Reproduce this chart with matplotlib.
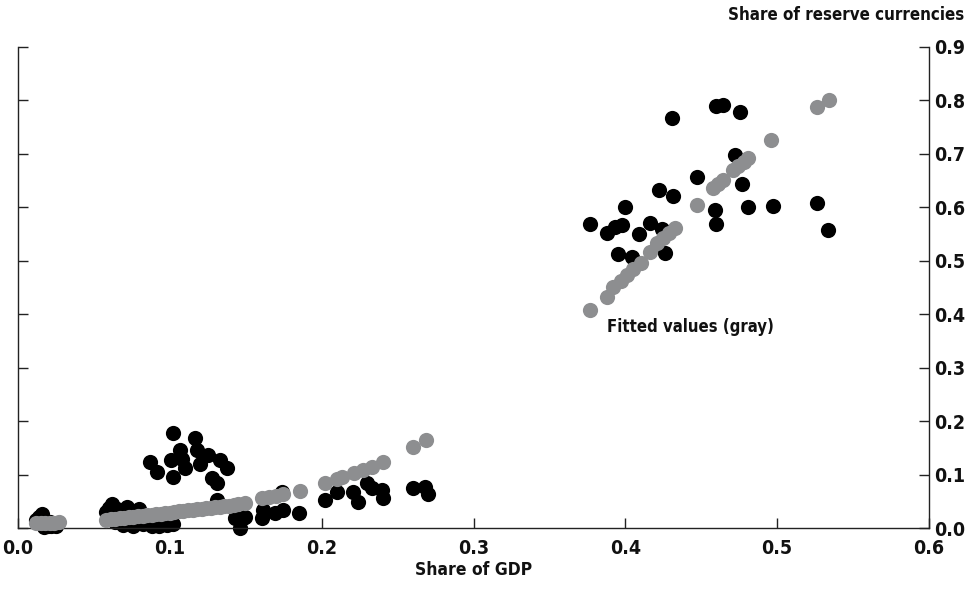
import os
import matplotlib
matplotlib.use("Agg")
import matplotlib.pyplot as plt
from matplotlib import font_manager

# ---------------- data ----------------
# actual observations (black)
actual_x_low = [0.012, 0.014, 0.0156, 0.016, 0.018, 0.020, 0.022, 0.024, 0.026, 0.017, 0.021, 0.025]
actual_y_low = [0.015, 0.020, 0.027, 0.008, 0.005, 0.003, 0.004, 0.006, 0.010, 0.002, 0.012, 0.003]

actual_x_mid = [0.058, 0.060, 0.062, 0.063, 0.065, 0.067, 0.069, 0.071, 0.072, 0.074, 0.076,
                0.078, 0.080, 0.082, 0.085, 0.088, 0.090, 0.093, 0.095, 0.098, 0.100, 0.102,
                0.060, 0.064, 0.068, 0.073, 0.077, 0.083, 0.087, 0.091, 0.096,
                0.087, 0.0913, 0.1023, 0.1023, 0.1067, 0.101, 0.110, 0.1166, 0.1177, 0.1253,
                0.133, 0.1375, 0.1276, 0.131, 0.131, 0.143, 0.1495, 0.146, 0.108, 0.120]
actual_y_mid = [0.030, 0.038, 0.045, 0.025, 0.035, 0.020, 0.005, 0.030, 0.040, 0.010, 0.003,
                0.025, 0.035, 0.008, 0.015, 0.003, 0.012, 0.004, 0.018, 0.006, 0.010, 0.008,
                0.020, 0.012, 0.028, 0.022, 0.015, 0.020, 0.010, 0.025, 0.018,
                0.124, 0.105, 0.178, 0.096, 0.146, 0.127, 0.112, 0.168, 0.146, 0.137,
                0.127, 0.112, 0.093, 0.084, 0.052, 0.018, 0.021, 0.000, 0.130, 0.120]

actual_x_high = [0.1484, 0.1605, 0.1616, 0.169, 0.1737, 0.1748, 0.1853, 0.2022, 0.210, 0.2209,
                 0.2242, 0.2297, 0.233, 0.2395, 0.2406, 0.2604, 0.268, 0.270]
actual_y_high = [0.018, 0.018, 0.034, 0.0275, 0.068, 0.034, 0.0275, 0.052, 0.068, 0.068,
                 0.049, 0.0836, 0.074, 0.071, 0.0556, 0.074, 0.077, 0.0636]

actual_x_top = [0.4305, 0.460, 0.4645, 0.4755, 0.472, 0.4474, 0.477, 0.4224, 0.4316, 0.3998,
                0.459, 0.481, 0.4975, 0.526, 0.5337, 0.460, 0.3767, 0.3877, 0.3932, 0.3976,
                0.4092, 0.4163, 0.424, 0.3954, 0.4042, 0.426]
actual_y_top = [0.767, 0.790, 0.792, 0.779, 0.698, 0.656, 0.644, 0.6325, 0.621, 0.601,
                0.595, 0.601, 0.6026, 0.6076, 0.5576, 0.569, 0.569, 0.5514, 0.5638, 0.5664,
                0.550, 0.570, 0.559, 0.5127, 0.5077, 0.515]

# fitted values (gray)
fitted_x = [0.012, 0.015, 0.018, 0.021, 0.024, 0.027,
            0.058, 0.061, 0.064, 0.067, 0.070, 0.073, 0.076, 0.079, 0.082, 0.085, 0.088,
            0.091, 0.094, 0.097, 0.100, 0.103, 0.106, 0.109, 0.112, 0.115, 0.118, 0.121,
            0.124, 0.127, 0.130, 0.133, 0.136, 0.139, 0.142, 0.145, 0.1495,
            0.1605, 0.165, 0.170, 0.1748, 0.1857, 0.2022, 0.210, 0.2132, 0.221, 0.2275,
            0.233, 0.2406, 0.2604, 0.269,
            0.377, 0.388, 0.392, 0.397, 0.401, 0.405, 0.410, 0.416, 0.421, 0.425, 0.429,
            0.433, 0.447, 0.458, 0.461, 0.464, 0.471, 0.474, 0.478, 0.481, 0.496, 0.526, 0.534]
fitted_y = [0.009, 0.009, 0.010, 0.010, 0.010, 0.011,
            0.015, 0.016, 0.017, 0.018, 0.019, 0.020, 0.021, 0.022, 0.023, 0.024, 0.025,
            0.026, 0.027, 0.028, 0.029, 0.030, 0.031, 0.032, 0.033, 0.034, 0.035, 0.036,
            0.037, 0.038, 0.039, 0.040, 0.041, 0.042, 0.043, 0.045, 0.046,
            0.0556, 0.058, 0.060, 0.0636, 0.070, 0.0836, 0.091, 0.095, 0.102, 0.1085,
            0.115, 0.124, 0.152, 0.165,
            0.408, 0.433, 0.451, 0.463, 0.474, 0.485, 0.496, 0.517, 0.533, 0.543, 0.552,
            0.561, 0.604, 0.636, 0.643, 0.651, 0.670, 0.677, 0.685, 0.692, 0.726, 0.788, 0.801]

x_ticks = [0.0, 0.1, 0.2, 0.3, 0.4, 0.5, 0.6]
y_ticks = [0.0, 0.1, 0.2, 0.3, 0.4, 0.5, 0.6, 0.7, 0.8, 0.9]

# ---------------- font: prefer a condensed sans ----------------
cands = []
for f in font_manager.fontManager.ttflist:
    base = os.path.basename(f.fname).lower()
    if ("condensed" in base or "narrow" in base) and "oblique" not in base and "italic" not in base:
        cands.append(f)
chosen = None
for pref in ["dejavusanscondensed-bold", "liberationsansnarrow-bold", "dejavusanscondensed"]:
    for f in cands:
        if os.path.basename(f.fname).lower().startswith(pref):
            chosen = f
            break
    if chosen:
        break
if chosen is not None:
    fp = font_manager.FontProperties(fname=chosen.fname)
else:
    fp = font_manager.FontProperties(family="Roboto", weight="medium")

fig = plt.figure(figsize=(9.77, 5.89), dpi=100)
ax = fig.add_axes([18 / 977, 1 - 528 / 589, (929 - 18) / 977, (528 - 47) / 589])

black = "#000000"
gray = "#8d8e90"
ms = 120

ax.scatter(actual_x_low + actual_x_mid + actual_x_high + actual_x_top,
           actual_y_low + actual_y_mid + actual_y_high + actual_y_top,
           s=ms, color=black, linewidths=0, zorder=2, clip_on=False)
ax.scatter(fitted_x, fitted_y, s=ms, color=gray, linewidths=0, zorder=3, clip_on=False)

ax.set_xlim(0, 0.6)
ax.set_ylim(0, 0.9)
ax.set_xticks(x_ticks)
ax.set_xticklabels([f"{v:.1f}" for v in x_ticks])
ax.set_yticks(y_ticks)
ax.set_yticklabels([f"{v:.1f}" for v in y_ticks])

ax.spines["top"].set_visible(False)
for s in ["left", "right", "bottom"]:
    ax.spines[s].set_linewidth(1.0)
    ax.spines[s].set_color("#222222")

ax.tick_params(axis="both", direction="in", length=7, width=1.0, color="#222222",
               labelcolor="#111111")
ax.tick_params(axis="y", left=True, right=True, labelleft=False, labelright=True, pad=4)
ax.tick_params(axis="x", pad=8)

def fprop(size):
    p = fp.copy()
    p.set_size(size)
    return p

for lab in ax.get_xticklabels() + ax.get_yticklabels():
    lab.set_fontproperties(fprop(14))

ax.set_xlabel("Share of GDP", fontproperties=fprop(12.5), labelpad=2, color="#111111")
fig.text(964 / 977, 1 - 15 / 589, "Share of reserve currencies", ha="right", va="center",
         fontproperties=fprop(12.2), color="#111111")

ax.text(0.388, 0.376, "Fitted values (gray)", ha="left", va="center",
        fontproperties=fprop(12), color="#111111")

fig.savefig("out.png", dpi=100)
